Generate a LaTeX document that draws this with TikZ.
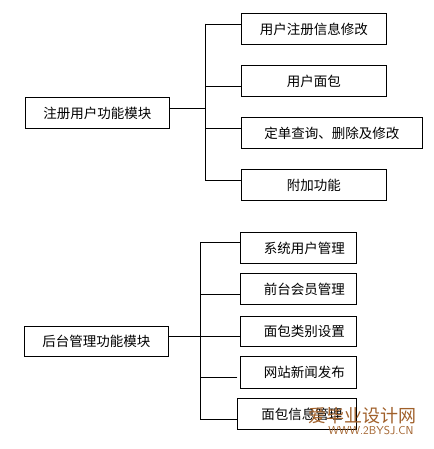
\documentclass[tikz,border=0pt]{standalone}
\usepackage{fontspec}
\setmainfont{Noto Sans CJK SC}
\definecolor{wm}{HTML}{A0602A}
\begin{document}
\begin{tikzpicture}[x=1pt,y=-1pt,
  line width=0.8pt,
  box/.style={draw, rectangle, anchor=north west, inner sep=0pt,
    font=\fontsize{13.5}{16}\selectfont},
  conn/.style={draw, line width=0.8pt, line cap=rect}]
\useasboundingbox (0,0) rectangle (433,449);
% top group
\node[box, minimum width=144pt, minimum height=31pt] (m1) at (25,97) {注册用户功能模块};
\node[box, minimum width=145pt, minimum height=31pt] (a1) at (241,13) {用户注册信息修改};
\node[box, minimum width=145pt, minimum height=31pt] (a2) at (241,65) {用户面包};
\node[box, minimum width=181pt, minimum height=31pt] (a3) at (241,117) {定单查询、删除及修改};
\node[box, minimum width=145pt, minimum height=31pt] (a4) at (241,169) {附加功能};
\coordinate (p0) at (205,108);
\coordinate (p1) at (205,24);
\coordinate (p2) at (205,86);
\coordinate (p3) at (205,128);
\coordinate (p4) at (205,180);
\draw[conn] (p1) -- (p4);
\draw[conn] (p0 -| m1.east) -- (p0);
\draw[conn] (p1) -- (p1 -| a1.west);
\draw[conn] (p2) -- (p2 -| a2.west);
\draw[conn] (p3) -- (p3 -| a3.west);
\draw[conn] (p4) -- (p4 -| a4.west);
% bottom group
\node[box, minimum width=144pt, minimum height=30pt] (m2) at (24,326) {后台管理功能模块};
\node[box, minimum width=116pt, minimum height=31pt] (b1) at (240,232) {\hspace*{12pt}系统用户管理\hfill};
\node[box, minimum width=116pt, minimum height=31pt] (b2) at (240,273) {\hspace*{12pt}前台会员管理\hfill};
\node[box, minimum width=116pt, minimum height=30pt] (b3) at (240,316) {\hspace*{12pt}面包类别设置\hfill};
\node[box, minimum width=116pt, minimum height=32pt] (b4) at (240,356) {\hspace*{12pt}网站新闻发布\hfill};
\node[box, minimum width=119pt, minimum height=31pt] (b5) at (237,398) {\hspace*{10pt}面包信息管理\hfill};
\coordinate (q1) at (200,242);
\coordinate (q2) at (200,294);
\coordinate (q3) at (200,336);
\coordinate (q4) at (200,377);
\coordinate (q5) at (200,419);
\draw[conn] (q1) -- (q5);
\draw[conn] (q3 -| m2.east) -- (q3 -| b3.west);
\draw[conn] (q1) -- (q1 -| b1.west);
\draw[conn] (q2) -- (q2 -| b2.west);
\draw[conn] (q4) -- ([xshift=-3pt]q4 -| b4.west);
\draw[conn] (q5) -- (q5 -| b5.west);
% watermark
\node[anchor=west, inner sep=0pt, text=wm, font=\fontsize{18}{19}\selectfont] (wm1) at (308,416) {爱毕业设计网};
\node[anchor=west, inner sep=0pt, text=wm, font=\fontsize{11.5}{12}\selectfont\sffamily] (wm2) at (328,431) {WWW.2BYSJ.CN};
\end{tikzpicture}
\end{document}
